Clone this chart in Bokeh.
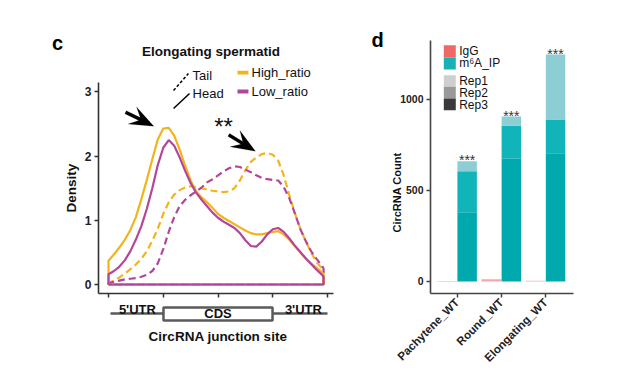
import numpy as np
from bokeh.plotting import figure
from bokeh.layouts import row
from bokeh.models import (Range1d, FixedTicker, Label, Arrow, BoxAnnotation,
                          PolyAnnotation)
from bokeh.core.properties import value
from bokeh.embed import file_html
from bokeh.resources import INLINE

FONT = "Liberation Sans"

# ---------------- panel c data ----------------
pos = [0, .025, .05, .075, .1, .125, .15, .175, .2, .225, .25, .275, .3, .325, .35,
       .375, .4, .425, .45, .475, .5, .525, .55, .575, .6, .625, .65, .675, .7,
       .725, .75, .775, .8, .825, .85, .875, .9, .925, .95, .975, .982]
high_head = [0.37, 0.47, 0.58, 0.70, 0.85, 1.05, 1.33, 1.63, 1.95, 2.26, 2.43, 2.44,
             2.32, 2.10, 1.85, 1.62, 1.45, 1.36, 1.28, 1.19, 1.10, 1.04, 0.99, 0.94,
             0.89, 0.84, 0.80, 0.78, 0.78, 0.80, 0.82, 0.83, 0.78, 0.70, 0.60, 0.50,
             0.41, 0.33, 0.26, 0.19, 0.15]
low_head = [0.16, 0.21, 0.28, 0.38, 0.52, 0.70, 0.91, 1.18, 1.50, 1.86, 2.13, 2.25,
            2.16, 1.98, 1.77, 1.58, 1.43, 1.32, 1.22, 1.12, 1.04, 0.98, 0.93, 0.88,
            0.80, 0.69, 0.60, 0.59, 0.67, 0.78, 0.86, 0.88, 0.82, 0.72, 0.61, 0.51,
            0.41, 0.32, 0.23, 0.15, 0.12]
high_tail = [0.02, 0.06, 0.11, 0.17, 0.24, 0.31, 0.40, 0.52, 0.68, 0.87, 1.10, 1.28,
             1.40, 1.47, 1.51, 1.53, 1.52, 1.50, 1.48, 1.46, 1.45, 1.44, 1.45, 1.50,
             1.62, 1.78, 1.91, 1.98, 2.03, 2.05, 2.02, 1.93, 1.70, 1.40, 1.12, 0.88,
             0.68, 0.50, 0.35, 0.25, 0.22]
low_tail = [0.02, 0.04, 0.06, 0.08, 0.09, 0.10, 0.12, 0.15, 0.21, 0.33, 0.55, 0.82,
            1.05, 1.22, 1.32, 1.39, 1.45, 1.51, 1.59, 1.64, 1.70, 1.76, 1.81, 1.84,
            1.83, 1.79, 1.75, 1.70, 1.66, 1.64, 1.63, 1.62, 1.52, 1.35, 1.12, 0.87,
            0.68, 0.52, 0.40, 0.29, 0.25]
region_ticks = [0, 0.25, 0.5, 0.75, 1.0]
density_ticks = [0, 1, 2, 3]

# ---------------- panel d data ----------------
stages = ["Pachytene_WT", "Round_WT", "Elongating_WT"]
igg_counts = [3, 12, 4]
ip_rep3 = [380, 673, 704]
ip_rep2 = [225, 181, 185]
ip_rep1 = [55, 51, 356]
count_ticks = [0, 500, 1000]
signif = ["***", "***", "***"]

ORANGE = "#F3B31B"
PURPLE = "#B3469B"
AXC = "#333333"

W1, W2, H = 360, 280, 380


def style_axis(ax, col):
    ax.axis_line_color = col
    ax.axis_line_width = 1.6
    ax.major_tick_line_color = col
    ax.major_tick_line_width = 1.5
    ax.major_tick_in = 0
    ax.major_tick_out = 4
    ax.minor_tick_line_color = None
    ax.major_label_text_font = FONT
    ax.major_label_text_font_style = "bold"
    ax.major_label_text_color = "#222222"
    ax.axis_label_text_font = FONT
    ax.axis_label_text_font_style = "bold"
    ax.axis_label_text_color = "#111111"


# ================= panel c =================
# frame fills the whole figure; px/unit: x 219, y 64.2
pc = figure(width=W1, height=H, x_range=Range1d(-0.4932, 1.1507),
            y_range=Range1d(-1.4953, 4.4237), output_backend="svg",
            toolbar_location=None, min_border=0)
pc.outline_line_color = None
pc.xgrid.visible = False
pc.ygrid.visible = False

style_axis(pc.xaxis[0], AXC)
style_axis(pc.yaxis[0], AXC)
pc.yaxis.fixed_location = -0.0457
pc.yaxis.bounds = (-0.140, 3.146)
pc.yaxis.ticker = FixedTicker(ticks=density_ticks)
pc.yaxis.major_label_text_font_size = "12px"
pc.yaxis.major_label_standoff = 3
pc.yaxis.axis_label = "Density"
pc.yaxis.axis_label_text_font_size = "13.5px"
pc.yaxis.axis_label_standoff = 3

pc.xaxis.fixed_location = -0.140
pc.xaxis.bounds = (-0.0457, 1.027)
pc.xaxis.ticker = FixedTicker(ticks=region_ticks)
pc.xaxis.major_label_overrides = {t: "" for t in region_ticks}


def outline(v):
    xs = [pos[0]] + pos + [pos[-1], pos[0]]
    ys = [0] + v + [0, 0]
    return xs, ys


for vals, col in ((high_tail, ORANGE), (low_tail, PURPLE)):
    xs, ys = outline(vals)
    pc.line(xs, ys, line_color=col, line_width=2.2, line_dash="7 4")
for vals, col in ((high_head, ORANGE), (low_head, PURPLE)):
    xs, ys = outline(vals)
    pc.line(xs, ys, line_color=col, line_width=2.2)


def stealth(tip, tail):
    sx, sy = 219.0, 64.2
    tx, ty = tip[0] * sx, tip[1] * sy
    bx, by = tail[0] * sx, tail[1] * sy
    dx, dy = bx - tx, by - ty
    L = np.hypot(dx, dy)
    ux, uy = dx / L, dy / L
    nx, ny = -uy, ux
    pts = [(0, 0), (24, 9.5), (16, 1.7), (L, 1.7), (L, -1.7), (16, -1.7), (24, -9.5)]
    xs = [(tx + a * ux + b * nx) / sx for a, b in pts]
    ys = [(ty + a * uy + b * ny) / sy for a, b in pts]
    return xs, ys


for tip, tail in (((0.207, 2.466), (0.078, 2.684)), ((0.671, 2.076), (0.549, 2.330))):
    xs, ys = stealth(tip, tail)
    pc.add_layout(PolyAnnotation(xs=xs, ys=ys, fill_color="black", fill_alpha=1,
                                 line_color="black", line_width=0.5))

pc.add_layout(Label(x=0.525, y=2.46, text="**", text_font=FONT, text_font_size="24px",
                    text_align="center", text_baseline="middle", text_color="#111111"))

# gene structure under the axis
pc.add_layout(Arrow(x_start=0.009, y_start=-0.452, x_end=1.0, y_end=-0.452, end=None,
                    line_color="#5a5a5a", line_width=2.5))
pc.add_layout(BoxAnnotation(left=0.251, right=0.749, bottom=-0.561, top=-0.358,
                            fill_color="white", fill_alpha=1, line_color="#5a5a5a",
                            line_width=2.5, line_alpha=1))
for txt, xx, yy, base in (("5'UTR", 0.132, -0.39, "alphabetic"),
                          ("3'UTR", 0.89, -0.39, "alphabetic"),
                          ("CDS", 0.50, -0.455, "middle")):
    pc.add_layout(Label(x=xx, y=yy, text=txt, text_font=FONT, text_font_size="13px",
                        text_font_style="bold", text_align="center",
                        text_baseline=base, text_color="#111111"))
# x-axis title
pc.add_layout(Label(x=0.50, y=-0.810, text="CircRNA junction site", text_font=FONT,
                    text_font_size="13.5px", text_font_style="bold", text_align="center",
                    text_baseline="middle", text_color="#111111"))

# title and panel letter
pc.add_layout(Label(x=0.468, y=3.629, text="Elongating spermatid", text_font=FONT,
                    text_font_size="13.5px", text_font_style="bold",
                    text_align="center", text_baseline="middle", text_color="#111111"))
pc.add_layout(Label(x=-0.233, y=3.769, text="c", text_font=FONT, text_font_size="20px",
                    text_font_style="bold", text_align="center", text_baseline="middle",
                    text_color="black"))

# line type key
pc.add_layout(Arrow(x_start=0.297, y_start=3.022, x_end=0.365, y_end=3.287, end=None,
                    line_color="black", line_width=1.5, line_dash="3 2"))
pc.add_layout(Arrow(x_start=0.297, y_start=2.741, x_end=0.370, y_end=2.975, end=None,
                    line_color="black", line_width=1.5))
for txt, yy in (("Tail", 3.255), ("Head", 2.975)):
    pc.add_layout(Label(x=0.384, y=yy, text=txt, text_font=FONT, text_font_size="13px",
                        text_align="left", text_baseline="middle", text_color="#111111"))
# colour key
for txt, col, yy in (("High_ratio", ORANGE, 3.30), ("Low_ratio", PURPLE, 3.006)):
    pc.add_layout(BoxAnnotation(left=0.589, right=0.639, bottom=yy - 0.03, top=yy + 0.03,
                                fill_color=col, fill_alpha=1, line_color=None))
    pc.add_layout(Label(x=0.653, y=yy, text=txt, text_font=FONT, text_font_size="13px",
                        text_align="left", text_baseline="middle", text_color="#111111"))

# ================= panel d =================
# frame fills the whole figure; px/unit: x 44.2, y 0.1823
pd_ = figure(width=W2, height=H, x_range=Range1d(-2.1878, 4.1471),
             y_range=Range1d(-543.1, 1541.4), output_backend="svg",
             toolbar_location=None, min_border=0)
pd_.outline_line_color = None
pd_.xgrid.visible = False
pd_.ygrid.visible = False

idx = np.arange(len(stages))
x_igg = idx - 0.225
x_ip = idx + 0.225
r3 = np.array(ip_rep3)
r2 = r3 + np.array(ip_rep2)
r1 = r2 + np.array(ip_rep1)

pd_.vbar(x=x_igg, bottom=0, top=igg_counts, width=0.45, fill_color="#F4A9A9",
         line_color=None)
pd_.vbar(x=x_ip, bottom=0, top=r3, width=0.44, fill_color="#00A9AD", line_color=None)
pd_.vbar(x=x_ip, bottom=r3, top=r2, width=0.44, fill_color="#10B4B9", line_color=None)
pd_.vbar(x=x_ip, bottom=r2, top=r1, width=0.44, fill_color="#8DCED5", line_color=None)
pd_.text(x=x_ip, y=r1, text=signif, text_font=value(FONT), text_font_size="14px",
         text_align="center", text_baseline="alphabetic", y_offset=-1,
         text_color="#333333")

style_axis(pd_.xaxis[0], "#444444")
style_axis(pd_.yaxis[0], "#444444")
pd_.yaxis.fixed_location = -0.604
pd_.yaxis.bounds = (-66, 1322)
pd_.yaxis.ticker = FixedTicker(ticks=count_ticks)
pd_.yaxis.major_label_text_font_size = "10.5px"
pd_.yaxis.major_label_standoff = 3
pd_.xaxis.fixed_location = -66
pd_.xaxis.bounds = (-0.604, 2.633)
pd_.xaxis.ticker = FixedTicker(ticks=list(idx))
pd_.xaxis.major_label_overrides = {int(i): s for i, s in zip(idx, stages)}
pd_.xaxis.major_label_text_font_size = "11.5px"
pd_.xaxis.major_label_orientation = np.pi / 4
pd_.xaxis.major_label_standoff = 3

pd_.add_layout(Label(x=-1.351, y=488, text="CircRNA Count", angle=np.pi / 2,
                     text_font=FONT, text_font_size="11px", text_font_style="bold",
                     text_align="center", text_baseline="middle", text_color="#111111"))
pd_.add_layout(Label(x=-1.803, y=1327, text="d", text_font=FONT, text_font_size="20px",
                     text_font_style="bold", text_align="center", text_baseline="middle",
                     text_color="black"))

legend_rows = [("IgG", "#EE6868", 1296, 1229, 1263),
               ("m⁶A_IP", "#17B2B6", 1229, 1163, 1196),
               ("Rep1", "#CFCFCF", 1132, 1068, 1099),
               ("Rep2", "#999999", 1068, 1004, 1035),
               ("Rep3", "#3A3A3A", 1004, 940, 967)]
for txt, col, top, bot, yc in legend_rows:
    pd_.add_layout(BoxAnnotation(left=-0.303, right=-0.032, bottom=bot, top=top,
                                 fill_color=col, fill_alpha=1, line_color=None))
    pd_.add_layout(Label(x=0.045, y=yc, text=txt, text_font=FONT, text_font_size="12px",
                         text_align="left", text_baseline="middle", text_color="#111111"))

layout = row(pc, pd_)
open("out.html", "w").write(file_html(layout, INLINE))
